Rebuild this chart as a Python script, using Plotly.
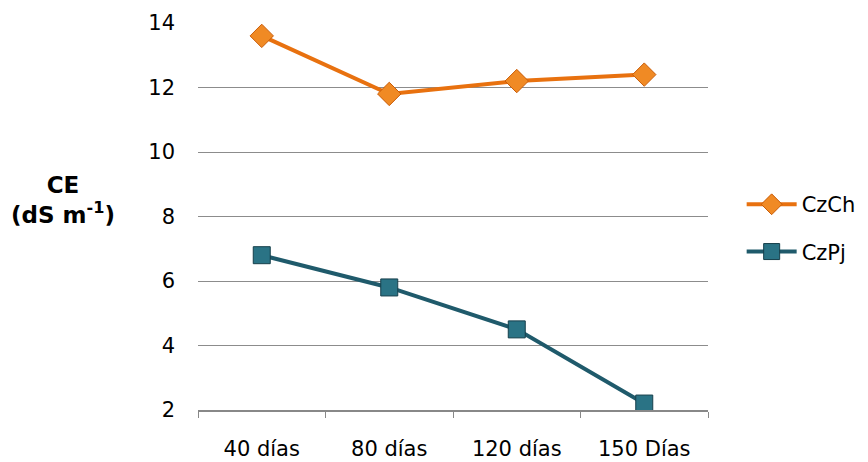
import plotly.graph_objects as go

categories = ["40 días", "80 días", "120 días", "150 Días"]
czch = [13.6, 11.8, 12.2, 12.4]
czpj = [6.8, 5.8, 4.5, 2.2]
y_ticks = [2, 4, 6, 8, 10, 12, 14]

FONT = "DejaVu Sans"
fig = go.Figure()
fig.add_trace(go.Scatter(
    x=categories, y=czch, name="CzCh", mode="lines+markers",
    legendgroup="a",
    line=dict(color="#E8710F", width=4),
    marker=dict(symbol="diamond", size=18, color="#F08A24",
                line=dict(color="#C95C08", width=1)),
))
fig.add_trace(go.Scatter(
    x=categories, y=czpj, name="CzPj", mode="lines+markers",
    legendgroup="b",
    line=dict(color="#1F5A6B", width=4),
    marker=dict(symbol="square", size=17, color="#2A7385",
                line=dict(color="#163F4B", width=1)),
))

fig.update_layout(
    width=860, height=454,
    margin=dict(l=190, r=160, t=15, b=52, autoexpand=False),
    paper_bgcolor="white", plot_bgcolor="white",
    font=dict(family=FONT, size=21, color="#000000"),
    showlegend=True,
    legend=dict(x=1.066, y=0.47, xanchor="left", yanchor="middle",
                font=dict(family=FONT, size=21), itemwidth=50,
                traceorder="grouped", tracegroupgap=17,
                bgcolor="rgba(0,0,0,0)"),
    xaxis=dict(type="category", showgrid=False, showline=True,
               linecolor="#888888", linewidth=1.5, ticks="outside",
               tickson="boundaries", ticklen=6, tickcolor="#888888",
               range=[-0.5, 3.5], tickfont=dict(size=21),
               ticklabelstandoff=19, automargin=False),
    yaxis=dict(range=[2, 14], tickvals=y_ticks, showgrid=True,
               gridcolor="#8C8C8C", gridwidth=1, showline=False,
               zeroline=False, ticks="", ticklabelstandoff=22,
               tickfont=dict(size=21), automargin=False),
    annotations=[dict(
        text="<b>CE</b><br><b>(dS m<sup>-1</sup>)</b>",
        xref="paper", yref="paper", x=-0.265, y=0.543,
        xanchor="center", yanchor="middle", showarrow=False,
        font=dict(family=FONT, size=23), align="center")],
)
fig.write_html("out.html")
